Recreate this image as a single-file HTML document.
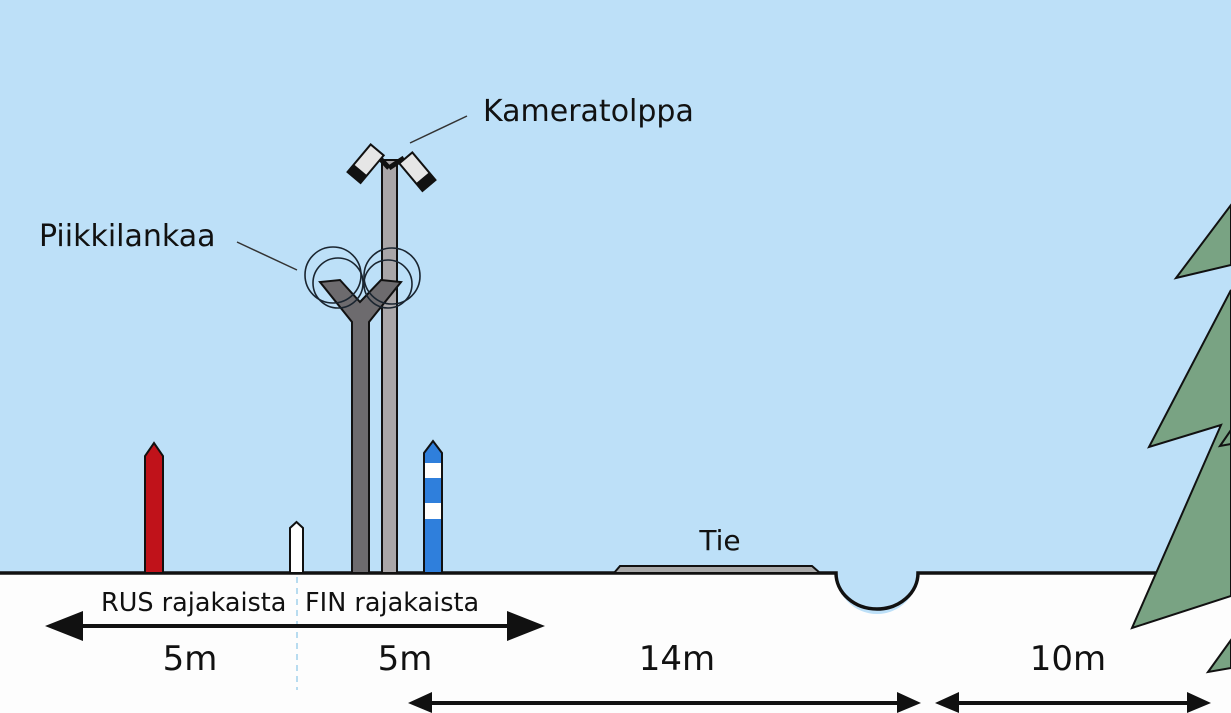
<!DOCTYPE html>
<html><head><meta charset="utf-8"><style>
html,body{margin:0;padding:0;width:1231px;height:713px;overflow:hidden;background:#fff}
svg{display:block}
text{font-family:"DejaVu Sans","Liberation Sans",sans-serif;fill:#111}
</style></head><body>
<svg width="1231" height="713" viewBox="0 0 1231 713" xmlns="http://www.w3.org/2000/svg">
<rect x="0" y="0" width="1231" height="573" fill="#bde0f8"/>
<rect x="0" y="573" width="1231" height="140" fill="#fdfdfd"/>
<path d="M836 573 A41 41 0 0 0 918 573 Z" fill="#bde0f8"/>
<path d="M0 573 L836 573 A41 36 0 0 0 918 573 L1231 573" fill="none" stroke="#111" stroke-width="3.5"/>
<path d="M614 573 L620 566 L812 566 L820 573 Z" fill="#a8a8a8" stroke="#111" stroke-width="2"/>
<text x="720" y="550" font-size="28" text-anchor="middle">Tie</text>
<path d="M145 573 L145 456 L154 443 L163 456 L163 573 Z" fill="#c0121a" stroke="#111" stroke-width="2"/>
<path d="M290 573 L290 528 L296.5 522 L303 528 L303 573 Z" fill="#fff" stroke="#111" stroke-width="2"/>
<path d="M424 573 L424 453 L433 441 L442 453 L442 573 Z" fill="#2f7fdc" stroke="#111" stroke-width="2"/>
<rect x="425" y="463" width="16" height="15" fill="#fff"/>
<rect x="425" y="503" width="16" height="16" fill="#fff"/>
<rect x="382" y="160" width="15" height="413" fill="#a9a6a8" stroke="#111" stroke-width="2"/>
<path d="M352 573 L352 322 L320 282 L340 280 L360 302 L381 280 L401 282 L369 322 L369 573 Z" fill="#6d6b6e" stroke="#111" stroke-width="2"/>
<path d="M389 168 L374 152 M389 168 L404 158" stroke="#111" stroke-width="5"/>
<g transform="rotate(-50 366 164)"><rect x="348" y="155" width="36" height="17" fill="#e6e6e6" stroke="#111" stroke-width="2"/><rect x="348" y="155" width="10" height="17" fill="#111"/></g>
<g transform="rotate(50 417 172)"><rect x="399" y="163" width="36" height="17" fill="#e6e6e6" stroke="#111" stroke-width="2"/><rect x="425" y="163" width="10" height="17" fill="#111"/></g>
<g fill="none" stroke="#1a2530" stroke-width="1.6">
<circle cx="333" cy="275" r="28"/><circle cx="338" cy="283" r="25"/>
<circle cx="392" cy="276" r="28"/><circle cx="388" cy="284" r="24"/>
</g>
<line x1="237" y1="242" x2="297" y2="270" stroke="#333" stroke-width="1.5"/>
<line x1="410" y1="143" x2="467" y2="116" stroke="#333" stroke-width="1.5"/>
<text x="39" y="246" font-size="30">Piikkilankaa</text>
<text x="483" y="121" font-size="30">Kameratolppa</text>
<path d="M1231 290 L1149 447 L1221 425 L1132 628 L1231 596 Z M1231 205 L1176 278 L1231 265 Z" fill="#79a383" stroke="#111" stroke-width="2"/>
<path d="M1231 640 L1208 672 L1231 668 Z" fill="#79a383" stroke="#111" stroke-width="2"/>
<path d="M1231 430 L1220 446 L1231 444" fill="none" stroke="#111" stroke-width="2"/>
<line x1="297" y1="577" x2="297" y2="690" stroke="#b8dcf0" stroke-width="2" stroke-dasharray="6 5"/>
<line x1="70" y1="626" x2="520" y2="626" stroke="#111" stroke-width="4"/>
<path d="M45 626 L83 611 L83 641 Z M545 626 L507 611 L507 641 Z" fill="#111"/>
<text x="101" y="611" font-size="25.5">RUS rajakaista</text>
<text x="305" y="611" font-size="25.5">FIN rajakaista</text>
<text x="190" y="670" font-size="34" text-anchor="middle">5m</text>
<text x="405" y="670" font-size="34" text-anchor="middle">5m</text>
<text x="677" y="670" font-size="34" text-anchor="middle">14m</text>
<text x="1068" y="670" font-size="34" text-anchor="middle">10m</text>
<line x1="420" y1="703" x2="910" y2="703" stroke="#111" stroke-width="4"/>
<path d="M408 703 L432 692 L432 713 Z M921 703 L897 692 L897 713 Z" fill="#111"/>
<line x1="945" y1="703" x2="1200" y2="703" stroke="#111" stroke-width="4"/>
<path d="M935 703 L959 692 L959 713 Z M1211 703 L1187 692 L1187 713 Z" fill="#111"/>
</svg>
</body></html>
